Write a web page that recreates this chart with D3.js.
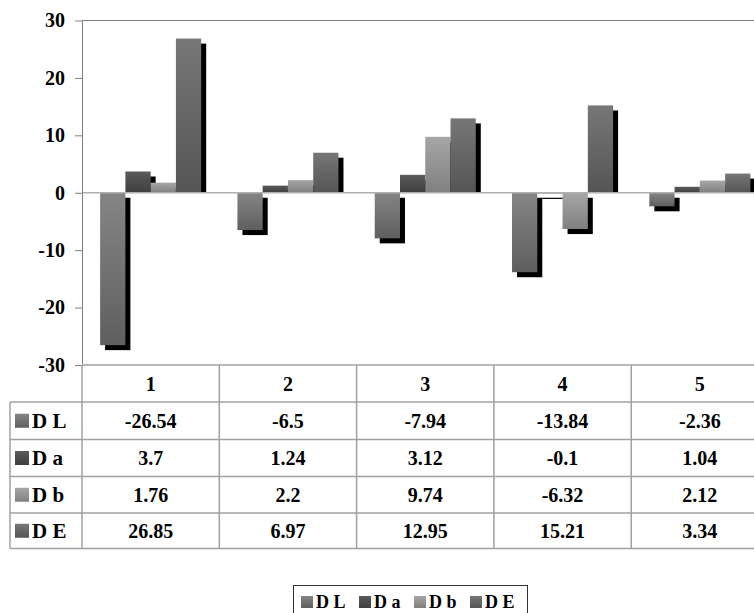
<!DOCTYPE html>
<html><head><meta charset="utf-8">
<script src="https://cdn.jsdelivr.net/npm/d3@7"></script>
<style>
html,body{margin:0;padding:0;background:#fff;}
svg{display:block;}
svg text{font-family:"Liberation Serif","Tinos","Times New Roman","DejaVu Serif","Noto Serif",serif !important;font-weight:bold;}
</style></head>
<body>
<svg id="chart" width="754" height="613"></svg>
<script>
const categories = ["1","2","3","4","5"];
const seriesNames = ["D L","D a","D b","D E"];
const seriesDL = [-26.54,-6.5,-7.94,-13.84,-2.36];
const seriesDa = [3.7,1.24,3.12,-0.1,1.04];
const seriesDb = [1.76,2.2,9.74,-6.32,2.12];
const seriesDE = [26.85,6.97,12.95,15.21,3.34];
const yTicks = [-30,-20,-10,0,10,20,30];
const seriesValues = [seriesDL, seriesDa, seriesDb, seriesDE];
const colorsTop = ["#858585","#5a5a5a","#a6a6a6","#777777"];
const colorsBot = ["#5f5f5f","#3f3f3f","#808080","#555555"];

(function(){
const svg = d3.select("#chart");
const defs = svg.append("defs");
seriesNames.forEach((s,i)=>{
  const g = defs.append("linearGradient").attr("id","g"+i)
    .attr("x1",0).attr("y1",0).attr("x2",0).attr("y2",1);
  g.append("stop").attr("offset","0%").attr("stop-color",colorsTop[i]);
  g.append("stop").attr("offset","100%").attr("stop-color",colorsBot[i]);
});

const pLeft = 82, pRight = 768.5, pTop = 20.5, pBottom = 365;
const y = d3.scaleLinear().domain([-30,30]).range([pBottom, pTop]);
const x0 = d3.scaleBand().domain(categories).range([pLeft,pRight]).paddingInner(0.264).paddingOuter(0.132);
const xc = d3.scaleBand().domain(categories).range([pLeft,pRight]).padding(0);
const x1 = d3.scaleBand().domain(seriesNames).range([0, x0.bandwidth()]).padding(0);

const data = [];
categories.forEach((c,ci)=>{
  seriesNames.forEach((s,si)=>{
    data.push({c, s, si, v: seriesValues[si][ci]});
  });
});

svg.append("line").attr("x1",pLeft).attr("x2",754).attr("y1",pTop).attr("y2",pTop)
  .attr("stroke","#808080").attr("stroke-width",1);

const off = 5;
svg.append("g").selectAll("rect").data(data).enter().append("rect")
  .attr("x", d=>x0(d.c)+x1(d.s)+off)
  .attr("width", x1.bandwidth())
  .attr("y", d=> d.v>=0 ? y(d.v)+off : y(0)+off)
  .attr("height", d=> d.v>=0 ? Math.max(0, y(0)-y(d.v)-off) : Math.max(1.2, y(d.v)-y(0)))
  .attr("fill","#000");

svg.append("g").selectAll("rect").data(data).enter().append("rect")
  .attr("x", d=>x0(d.c)+x1(d.s))
  .attr("width", x1.bandwidth())
  .attr("y", d=> y(Math.max(0,d.v)))
  .attr("height", d=> Math.abs(y(d.v)-y(0)))
  .attr("fill", d=>"url(#g"+d.si+")");

svg.append("line").attr("x1",pLeft).attr("x2",754).attr("y1",y(0)).attr("y2",y(0))
  .attr("stroke","#b0b0b0").attr("stroke-width",1.5);

const yAxis = d3.axisLeft(y).tickValues(yTicks).tickFormat(d=>String(d)).tickSize(7).tickPadding(10).tickSizeOuter(0);
const ga = svg.append("g").attr("transform",`translate(${pLeft},0)`).call(yAxis);
ga.attr("font-family",null);
ga.select(".domain").attr("stroke","#808080");
ga.selectAll(".tick line").attr("stroke","#808080");
ga.selectAll(".tick text").attr("font-size","20px").attr("fill","#000");

const tableColor = "#a0a0a0";
const rowTops = [365, 402, 439.5, 476.5, 513];
const tableBottom = 548.5;
const labelLeft = 10;
const tg = svg.append("g");
tg.append("line").attr("x1",pLeft).attr("x2",754).attr("y1",pBottom).attr("y2",pBottom).attr("stroke",tableColor).attr("stroke-width",1.5);
[402,439.5,476.5,513,548.5].forEach(yy=>{
  tg.append("line").attr("x1",labelLeft).attr("x2",754).attr("y1",yy).attr("y2",yy).attr("stroke",tableColor).attr("stroke-width",1.5);
});
categories.forEach(c=>{
  tg.append("line").attr("x1",xc(c)).attr("x2",xc(c)).attr("y1",pBottom).attr("y2",tableBottom).attr("stroke",tableColor).attr("stroke-width",1.5);
});
tg.append("line").attr("x1",labelLeft).attr("x2",labelLeft).attr("y1",402).attr("y2",tableBottom).attr("stroke",tableColor).attr("stroke-width",1.5);

categories.forEach(c=>{
  tg.append("text").attr("x",xc(c)+xc.bandwidth()/2).attr("y",(365+402)/2).attr("dy","0.35em")
    .attr("text-anchor","middle").attr("font-size","20px").text(c);
});
seriesNames.forEach((s,si)=>{
  const yc = (rowTops[si+1] + (si<3 ? rowTops[si+2] : tableBottom))/2;
  tg.append("rect").attr("x",15).attr("y",yc-7).attr("width",14).attr("height",14).attr("fill","url(#g"+si+")");
  tg.append("text").attr("x",32).attr("y",yc).attr("dy","0.35em").attr("font-size","21px").text(s);
  categories.forEach((c,ci)=>{
    tg.append("text").attr("x",xc(c)+xc.bandwidth()/2).attr("y",yc).attr("dy","0.35em")
      .attr("text-anchor","middle").attr("font-size","20px").text(seriesValues[si][ci]);
  });
});

const lg = svg.append("g");
lg.append("rect").attr("x",293.5).attr("y",585.5).attr("width",234).attr("height",40)
  .attr("fill","none").attr("stroke","#333").attr("stroke-width",1);
const legX = [301, 359, 414, 470];
seriesNames.forEach((s,si)=>{
  lg.append("rect").attr("x",legX[si]).attr("y",596).attr("width",12).attr("height",12).attr("fill","url(#g"+si+")");
  lg.append("text").attr("x",legX[si]+15).attr("y",607.5).attr("font-size","18px").text(s);
});
})();
</script>
</body></html>
